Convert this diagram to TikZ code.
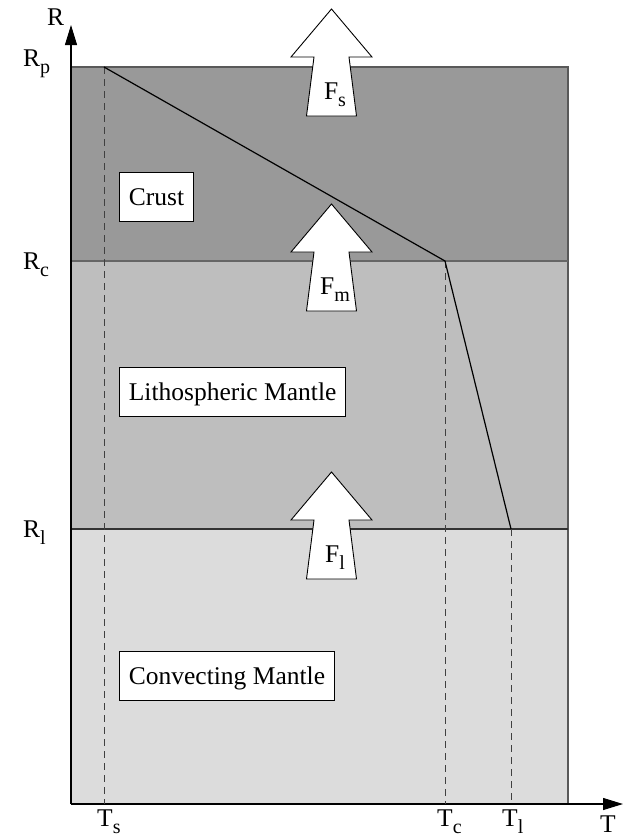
\documentclass[tikz,border=0pt]{standalone}
\usepackage{fontspec}
\setmainfont{Liberation Serif}
\usepackage{tikz}
\usetikzlibrary{positioning}
\usetikzlibrary{arrows.meta}
\definecolor{mycrust}{RGB}{153,153,153}
\definecolor{mylitho}{RGB}{190,190,190}
\definecolor{myconv}{RGB}{220,220,220}
\newcommand{\lowsub}[1]{\raisebox{-7pt}{\fontsize{20}{22}\selectfont #1}}

\begin{document}
\begin{tikzpicture}[x=1pt,y=-1pt,
lab/.style={inner sep=0pt,font=\rmfamily\fontsize{25.5}{30}\selectfont},
layerbox/.style={
  draw=black,
  fill=white,
  line width=0.8pt,
  font=\rmfamily\fontsize{25.5}{30}\selectfont,
  inner xsep=9.5pt,
  inner ysep=16pt,
  text height=17pt,
  text depth=0pt,
  anchor=west},
flux/.style={draw=black,fill=white,line width=0.9pt,line join=miter},
guide/.style={gray!50!black,line width=0.9pt,dash pattern=on 7pt off 5pt},
]
\useasboundingbox (0,0) rectangle (625,838);
% layers
\fill[mycrust] (71,67) rectangle (568,261);
\fill[mylitho] (71,261) rectangle (568,529);
\fill[myconv] (71,529) rectangle (568,804);
\draw[gray!70!black,line width=1.2pt] (71,67) -- (568,67) -- (568,804);
\draw[gray!80!black,line width=1.2pt] (71,261) -- (568,261);
\draw[black!80,line width=1.4pt] (71,529) -- (568,529);
% axes
\coordinate (O) at (71,804);
\coordinate (rtip) at (71,25);
\coordinate (ttip) at (623,804);
\draw[line width=1.1pt,-{Triangle[length=20pt,width=12pt]}] (O) -- (rtip);
\draw[line width=1.1pt,-{Triangle[length=20pt,width=12pt]}] (O) -- (ttip);
\node[lab,anchor=base west] (r) at (47,25) {R};
\node[lab,anchor=base west] (t) at (600,832) {T};
\node[lab,anchor=base west] (rp) at (23,66) {R\lowsub{p}};
\node[lab,anchor=base west] (rc) at (23,269) {R\lowsub{c}};
\node[lab,anchor=base west] (rl) at (23,537) {R\lowsub{l}};
\node[lab,anchor=base west] (ts) at (97,826) {T\lowsub{s}};
\node[lab,anchor=base west] (tc) at (437,826) {T\lowsub{c}};
\node[lab,anchor=base west] (tl) at (502,826) {T\lowsub{l}};
% temperature profile
\coordinate (ps) at (104,67);
\coordinate (pc) at (445,261);
\coordinate (pl) at (511,529);
\draw[guide] (ps) -- (104,804);
\draw[guide] (pc) -- (445,804);
\draw[guide] (pl) -- (511,804);
\draw[line width=1.2pt] (ps) -- (pc) -- (pl);
% layer names
\node[layerbox] (crust) at (119,196.5) {Crust};
\node[layerbox] (litho) at (119,392) {Lithospheric Mantle};
\node[layerbox] (conv) at (119,676) {Convecting Mantle};
% heat fluxes
\foreach \tip/\nm/\sb in {9/fs/s,204/fm/m,472/fl/l}{
  \draw[flux] (331.5,\tip) -- ++(40.5,48) -- ++(-23,0) -- ++(7.5,59)
    -- ++(-50,0) -- ++(7.5,-59) -- ++(-23,0) -- cycle;
  \node[lab,anchor=base] (\nm) at (335,{\tip+90}) {F\lowsub{\sb}};
}
\end{tikzpicture}
\end{document}
